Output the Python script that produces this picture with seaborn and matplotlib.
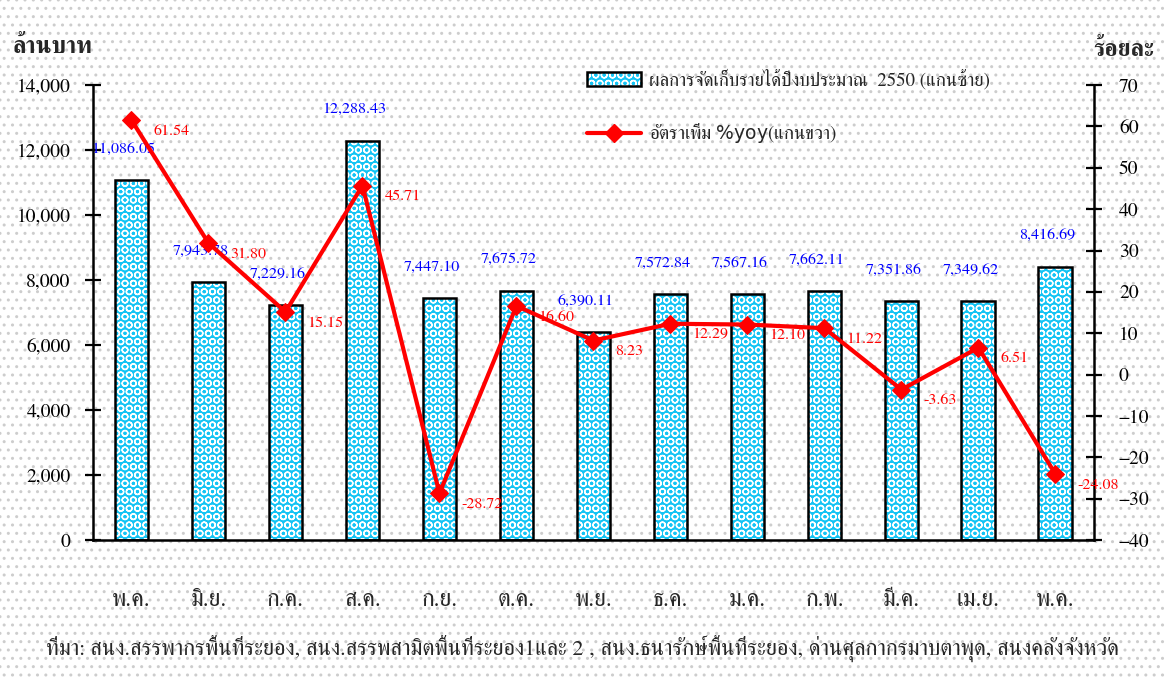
import matplotlib
matplotlib.use("Agg")
import matplotlib.pyplot as plt
from matplotlib.patches import Rectangle, Patch
from matplotlib.lines import Line2D
from matplotlib.ticker import FuncFormatter
import numpy as np
import pandas as pd
import seaborn as sns

# data
months = ['พ.ค.', 'มิ.ย.', 'ก.ค.', 'ส.ค.', 'ก.ย.', 'ต.ค.', 'พ.ย.',
          'ธ.ค.', 'ม.ค.', 'ก.พ.', 'มี.ค.', 'เม.ย.', 'พ.ค.']
revenue = [11086.05, 7943.78, 7229.16, 12288.43, 7447.10, 7675.72, 6390.11,
           7572.84, 7567.16, 7662.11, 7351.86, 7349.62, 8416.69]
growth = [61.54, 31.80, 15.15, 45.71, -28.72, 16.60, 8.23,
          12.29, 12.10, 11.22, -3.63, 6.51, -24.08]

bar_label = 'ผลการจัดเก็บรายได้ปีงบประมาณ  2550 (แกนซ้าย)'
line_label = r'อัตราเพิ่ม $\mathsf{\%yoy}$(แกนขวา)'
left_title = 'ล้านบาท'
right_title = 'ร้อยละ'
source = ('ที่มา: สนง.สรรพากรพื้นที่ระยอง, สนง.สรรพสามิตพื้นที่ระยอง1และ 2 , '
          'สนง.ธนารักษ์พื้นที่ระยอง, ด่านศุลกากรมาบตาพุด, สนงคลังจังหวัด')

df = pd.DataFrame({'pos': np.arange(len(months)), 'revenue': revenue, 'growth': growth})

sns.set_style("white")
plt.rcParams['font.family'] = ['FreeSerif', 'DejaVu Sans']
plt.rcParams['mathtext.fontset'] = 'dejavusans'

cyan = '#14C4F4'

fig = plt.figure(figsize=(11.65, 6.79), dpi=100)
fig.patch.set_facecolor('white')
# dotted page background
bg = Rectangle((0, 0), 1, 1, transform=fig.transFigure, facecolor='white',
               edgecolor='#cdcdcd', hatch='..', lw=0, zorder=-5)
fig.add_artist(bg)

ax = fig.add_axes([0.0798, 0.2047, 0.8592, 0.670])
ax.set_facecolor('none')

sns.barplot(data=df, x='pos', y='revenue', color=cyan, width=0.44,
            saturation=1, ax=ax, zorder=2)
for p in list(ax.patches):
    p.set_facecolor(cyan)
    p.set_hatch('OO')
    p.set_edgecolor('white')
    p.set_linewidth(0)
    ax.add_patch(Rectangle(p.get_xy(), p.get_width(), p.get_height(),
                           fill=False, edgecolor='black', lw=1.8, zorder=3))

for i, v in enumerate(revenue):
    ax.annotate(f"{v:,.2f}", (i, v), xytext=(-8, 31), textcoords='offset pixels',
                ha='center', va='center', color='blue', fontsize=11.5, zorder=5)

ax.set_xlim(-0.5, len(months) - 0.5)
ax.set_ylim(0, 14000)
ax.set_yticks(np.arange(0, 14001, 2000))
ax.yaxis.set_major_formatter(FuncFormatter(lambda x, _: f"{x:,.0f}"))
ax.set_xticks(np.arange(len(months)))
ax.set_xticklabels(months)
ax.set_xticks(np.arange(-0.5, len(months), 1), minor=True)
ax.set_xlabel('')
ax.set_ylabel('')
ax.tick_params(axis='y', direction='inout', length=12, width=1.6,
               labelsize=14, pad=10, colors='black')
ax.tick_params(axis='x', which='major', length=0, labelsize=17, pad=36)
ax.tick_params(axis='x', which='minor', direction='out', length=8, width=1.3)
for s in ['top', 'right']:
    ax.spines[s].set_visible(False)
for s in ['left', 'bottom']:
    ax.spines[s].set_color('black')
    ax.spines[s].set_linewidth(1.8)

ax2 = ax.twinx()
ax2.set_facecolor('none')
sns.lineplot(data=df, x='pos', y='growth', ax=ax2, color='red', lw=3,
             marker='D', markersize=9, markeredgecolor='red', zorder=4)
for i, v in enumerate(growth):
    ax2.annotate(f"{v:.2f}", (i, v), xytext=(22, -11), textcoords='offset pixels',
                 ha='left', va='center', color='red', fontsize=11.5, zorder=5)
ax2.set_ylim(-40, 70)
ax2.set_yticks(np.arange(-40, 71, 10))
ax2.set_ylabel('')
ax2.tick_params(axis='y', direction='inout', length=12, width=1.6,
                labelsize=14, pad=12, colors='black')
for s in ['top', 'left', 'bottom']:
    ax2.spines[s].set_visible(False)
ax2.spines['right'].set_color('black')
ax2.spines['right'].set_linewidth(1.8)
ax2.set_xlim(-0.5, len(months) - 0.5)

# titles and source
fig.text(13 / 1165, 1 - 47 / 679, left_title, fontsize=17, fontweight='bold',
         va='center', ha='left')
fig.text(1093 / 1165, 1 - 50 / 679, right_title, fontsize=17, fontweight='bold',
         va='center', ha='left')
fig.text(0.5, 1 - 648 / 679, source, fontsize=16, ha='center', va='center')

# legend
bar_fill = Patch(facecolor=cyan, edgecolor='white', hatch='OO', lw=0)
bar_edge = Patch(facecolor='none', edgecolor='black', lw=1.8)
line_h = Line2D([], [], color='red', lw=3, marker='D', markersize=9)
fig.legend([(bar_fill, bar_edge), line_h], [bar_label, line_label],
           loc='upper left', bbox_to_anchor=(570 / 1165, 1 - 52 / 679),
           frameon=False, fontsize=13.5, labelspacing=1.7, handlelength=2.9,
           handletextpad=0.4)

fig.savefig('out.png', dpi=100)
